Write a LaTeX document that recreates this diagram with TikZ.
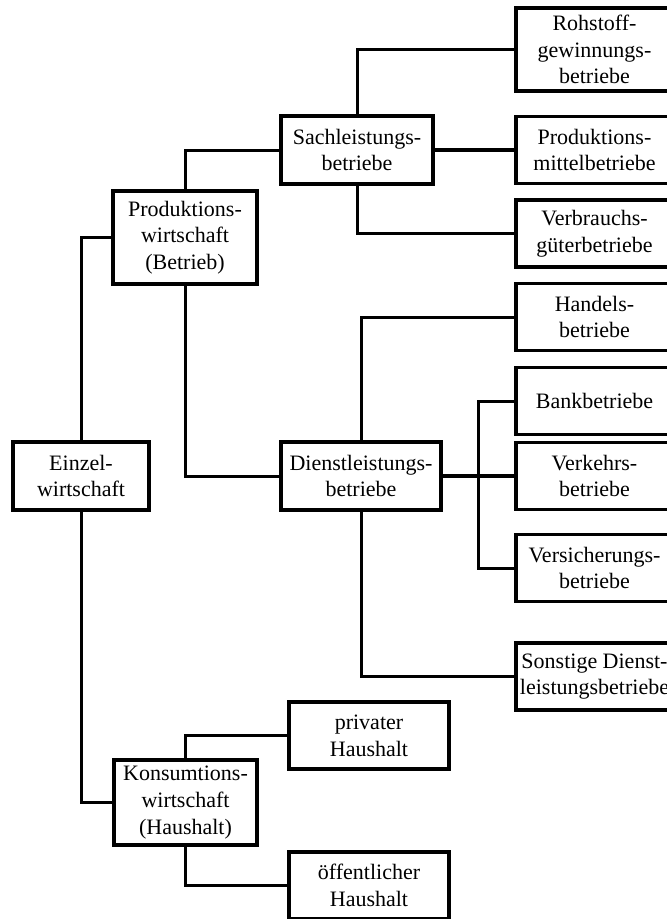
\documentclass[tikz,border=0pt]{standalone}
\usepackage{fontspec}
\setmainfont{Liberation Serif}

\begin{document}
\begin{tikzpicture}[
  x=1pt, y=-1pt,
  box/.style={draw, line width=3.3pt, inner sep=0pt, align=center,
    font=\fontsize{22}{26.7}\selectfont},
  leaf/.style={box, minimum width=157pt, minimum height=67pt},
  conn/.style={line width=3pt},
  straight/.style={line width=4pt},
]
  \useasboundingbox (0,0) rectangle (667,919);

  % left part
  \node[box, minimum width=136pt, minimum height=68pt] (einzel) at (81,476)
    {Einzel-\\wirtschaft};
  \node[box, minimum width=144pt, minimum height=93pt] (prod) at (185,237.5)
    {Produktions-\\wirtschaft\\(Betrieb)};
  \node[box, minimum width=143pt, minimum height=85pt] (konsum) at (185.5,802.5)
    {Konsumtions-\\wirtschaft\\(Haushalt)};

  \node[box, minimum width=152pt, minimum height=68pt] (sach) at (357,150)
    {Sachleistungs-\\betriebe};
  \node[box, minimum width=160pt, minimum height=68pt] (dienst) at (361,476)
    {Dienstleistungs-\\betriebe};
  \node[box, minimum width=160pt, minimum height=67pt] (priv) at (369,735.5)
    {privater\\Haushalt};
  \node[box, minimum width=160pt, minimum height=67pt] (oeff) at (369,885.5)
    {öffentlicher\\Haushalt};

  % right column
  \node[leaf, minimum height=83pt] (roh) at (594.5,49.5)
    {Rohstoff-\\gewinnungs-\\betriebe};
  \node[leaf] (mittel) at (594.5,150) {Produktions-\\mittelbetriebe};
  \node[leaf] (verbr) at (594.5,233.5) {Verbrauchs-\\güterbetriebe};
  \node[leaf] (handel) at (594.5,317) {Handels-\\betriebe};
  \node[leaf] (bank) at (594.5,401) {Bankbetriebe};
  \node[leaf] (verkehr) at (594.5,476) {Verkehrs-\\betriebe};
  \node[leaf] (versich) at (594.5,568) {Versicherungs-\\betriebe};
  \node[leaf] (sonst) at (594.5,676.5) {Sonstige Dienst-\\leistungsbetriebe};

  \coordinate (fork) at (478,476);

  % connectors
  \draw[conn] (einzel.north) |- (prod.west);
  \draw[conn] (einzel.south) |- (konsum.west);
  \draw[conn] (prod.north) |- (sach.west);
  \draw[conn] (prod.south) |- (dienst.west);
  \draw[conn] (konsum.north) |- (priv.west);
  \draw[conn] (konsum.south) |- (oeff.west);

  \draw[conn] (sach.north) |- (roh.west);
  \draw[straight] (sach) -- (mittel);
  \draw[conn] (sach.south) |- (verbr.west);

  \draw[conn] (dienst.north) |- (handel.west);
  \draw[straight] (dienst) -- (verkehr);
  \draw[conn] (fork) |- (bank.west);
  \draw[conn] (fork) |- (versich.west);
  \draw[conn] (dienst.south) |- (sonst.west);
\end{tikzpicture}
\end{document}
